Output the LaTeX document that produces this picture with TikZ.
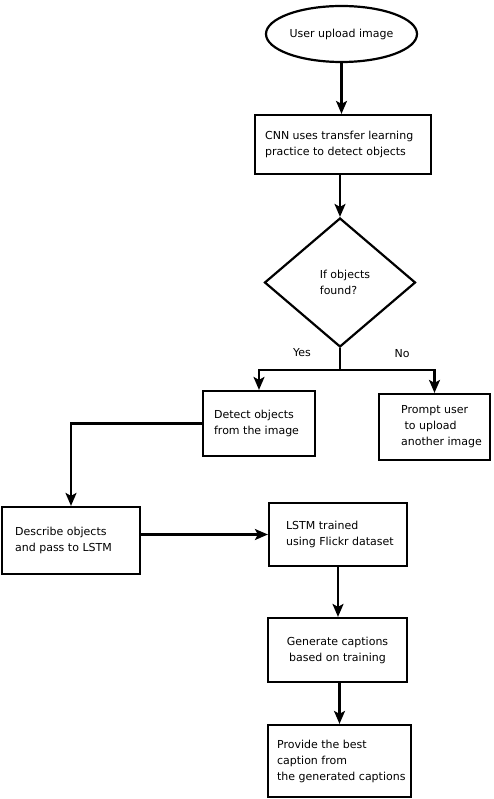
\documentclass[tikz,border=0pt]{standalone}
\usepackage{fontspec}
\setmainfont{DejaVu Sans}
\usetikzlibrary{shapes.geometric,arrows.meta}
\begin{document}
\begin{tikzpicture}[x=1pt,y=-1pt,
  every node/.style={font=\fontsize{11pt}{16pt}\selectfont},
  outline/.style={draw=black, line width=2.2pt},
  box/.style={outline, rectangle, inner sep=0pt},
  boxtext/.style={anchor=west, align=left, inner sep=0pt},
  arr/.style={line width=2.2pt, -{Stealth[length=13pt,width=11pt,inset=3pt]}},
  link/.style={line width=2.2pt}]
\useasboundingbox (0,0) rectangle (493,799);

% start / decision
\node[outline, ellipse, minimum width=151pt, minimum height=56pt, inner sep=0pt]
  (start) at (341.5,34) {User upload image};
\node[box, minimum width=176pt, minimum height=59pt,
  label={[boxtext, xshift=11pt]west:CNN uses transfer learning\\practice to detect objects}]
  (cnn) at (343,144.5) {};
\node[outline, diamond, minimum width=151pt, minimum height=129pt, inner sep=0pt,
  label={[align=left, inner sep=0pt, xshift=5pt]center:If objects\\found?}]
  (dia) at (340,282.5) {};
\coordinate (split) at (340,370);
\node (yes) at (302,353) {Yes};
\node (no) at (402,354) {No};

% branches
\node[box, minimum width=112pt, minimum height=65pt,
  label={[boxtext, xshift=12pt]west:Detect objects\\from the image}]
  (detect) at (259,423.5) {};
\node[box, minimum width=111pt, minimum height=66pt,
  label={[boxtext, xshift=23pt]west:Prompt user\\\hspace*{3.5pt}to upload\\another image}]
  (prompt) at (434.5,427) {};

% captioning pipeline
\node[box, minimum width=138pt, minimum height=67pt,
  label={[boxtext, xshift=14pt]west:Describe objects\\and pass to LSTM}]
  (describe) at (71,540.5) {};
\node[box, minimum width=138pt, minimum height=63pt,
  label={[boxtext, xshift=18pt]west:LSTM trained\\using Flickr dataset}]
  (lstm) at (338,534.5) {};
\node[box, minimum width=139pt, minimum height=64pt, align=center]
  (gen) at (337.5,650) {Generate captions\\based on training};
\node[box, minimum width=143pt, minimum height=72pt,
  label={[boxtext, xshift=10pt]west:Provide the best\\caption from\\the generated captions}]
  (prov) at (339.5,761) {};

% connectors
\draw[arr] (start.south) -- (start.south |- cnn.north);
\draw[arr] (cnn.south -| dia.north) -- (dia.north);
\draw[link] (dia.south) -- (split);
\draw[arr] (split) -| (detect.north);
\draw[arr] (split) -| (prompt.north);
\draw[arr] (detect.west) -| (describe.north);
\draw[arr] (describe.east |- lstm.west) -- (lstm.west);
\draw[arr] (lstm.south) -- (lstm.south |- gen.north);
\draw[arr] (gen.south -| prov.north) -- (prov.north);
\end{tikzpicture}
\end{document}
